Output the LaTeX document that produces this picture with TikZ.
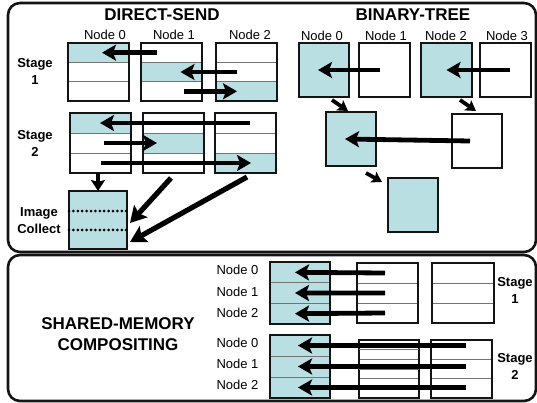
\documentclass[tikz,border=0pt]{standalone}
\usepackage{fontspec}
\setmainfont{Liberation Sans}
\usetikzlibrary{arrows.meta,fit,calc}
\definecolor{cellfill}{RGB}{185,223,227}
\definecolor{inkdark}{RGB}{20,20,20}
\definecolor{rulegray}{RGB}{115,115,115}

% three stacked rows (name-0, name-1, name-2) inside a heavy frame (name)
% #1 name, #2 x, #3 y, #4 width, #5 height, #6-#8 row fills
\newcommand\tribox[8]{%
  \node[cell, fill=#6, minimum width=#4pt, minimum height=#5pt/3, anchor=north west] (#1-0) at (#2,#3) {};
  \node[cell, fill=#7, minimum width=#4pt, minimum height=#5pt/3, anchor=north west] (#1-1) at (#1-0.south west) {};
  \node[cell, fill=#8, minimum width=#4pt, minimum height=#5pt/3, anchor=north west] (#1-2) at (#1-1.south west) {};
  \node[frame, fit=(#1-0)(#1-2)] (#1) {};
}

\begin{document}
\begin{tikzpicture}[x=1pt,y=-1pt,
  panel/.style={draw=inkdark, line width=2.6pt, rounded corners=12pt, inner sep=0, outer sep=0, anchor=north west},
  cell/.style={draw=rulegray, line width=0.9pt, inner sep=0, outer sep=0},
  frame/.style={draw=inkdark, line width=2pt, inner sep=0, outer sep=0},
  solo/.style={frame, anchor=north west},
  hdr/.style={font=\fontsize{17}{21}\selectfont\bfseries, anchor=base, inner sep=0},
  lbl/.style={font=\fontsize{13}{15}\selectfont, anchor=base, inner sep=0},
  stg/.style={font=\fontsize{13}{17}\selectfont\bfseries, align=center, inner sep=0},
  bigarrow/.style={draw=black, line width=4.8pt, -{Stealth[length=14pt,width=16pt,inset=3pt]}},
  tiltarrow/.style={draw=black, line width=5.2pt, -{Stealth[length=16pt,width=18pt,inset=3pt]}},
  droparrow/.style={draw=black, line width=4.2pt, -{Stealth[length=11pt,width=14pt,inset=2pt]}},
  hoparrow/.style={draw=black, line width=3.8pt, -{Stealth[length=10pt,width=12pt,inset=2pt]}},
  dotrule/.style={draw=black, line width=3pt, line cap=round, dash pattern=on 0pt off 4.4pt}
]
\useasboundingbox (0,0) rectangle (537,403);

% ---------- panels ----------
\node[panel, minimum width=528pt, minimum height=249pt] (toppanel) at (8,3) {};
\node[panel, minimum width=528pt, minimum height=146pt] (botpanel) at (8,255) {};

% ---------- direct-send ----------
\node[hdr] (dshead) at (162,21) {DIRECT-SEND};
\node[lbl] (dsn0) at (105,40) {Node 0};
\node[lbl] (dsn1) at (174,40) {Node 1};
\node[lbl] (dsn2) at (250,40) {Node 2};
\node[stg] (dsst1) at (35,71.4) {Stage\\1};
\node[stg] (dsst2) at (35,143.8) {Stage\\2};
\node[stg] (dsimg) at (39,220.9) {Image\\Collect};

\tribox{ds1a}{67.5}{43}{61}{58}{cellfill}{white}{white}
\tribox{ds1b}{140.5}{43}{61}{58}{white}{cellfill}{white}
\tribox{ds1c}{216}{43}{61}{58}{white}{white}{cellfill}

\tribox{ds2a}{70}{113}{61}{60}{cellfill}{white}{white}
\tribox{ds2b}{143}{113}{61}{60}{white}{cellfill}{white}
\tribox{ds2c}{215}{113}{61}{60}{white}{white}{cellfill}

\node[solo, fill=cellfill, minimum width=58pt, minimum height=58pt] (ic) at (69,191) {};
\draw[dotrule] ($(ic.north west)!0.345!(ic.south west)$) -- ($(ic.north east)!0.345!(ic.south east)$);
\draw[dotrule] ($(ic.north west)!0.672!(ic.south west)$) -- ($(ic.north east)!0.672!(ic.south east)$);

% stage 1 exchanges
\draw[bigarrow] ([xshift=16.5pt]ds1b-0.west) -- ([xshift=34.5pt]ds1a-0.west);
\draw[bigarrow] ([xshift=21pt]ds1c-1.west) -- ([xshift=40pt]ds1b-1.west);
\draw[bigarrow] ([xshift=43pt]ds1b-2.west) -- ([xshift=21pt]ds1c-2.west);
% stage 2 exchanges
\draw[bigarrow] ([xshift=35pt]ds2c-0.west) -- ([xshift=30pt]ds2a-0.west);
\draw[bigarrow] ([xshift=34pt]ds2a-1.west) -- ([xshift=14pt]ds2b-1.west);
\draw[bigarrow] ([xshift=31pt]ds2a-2.west) -- ([xshift=36pt]ds2c-2.west);
% gather to the collecting image
\draw[droparrow] (ic.north |- ds2a.south) -- (ic.north);
\draw[tiltarrow] ([shift={(-2.5pt,-5pt)}]ds2b.south) -- ([shift={(3pt,-3pt)}]ic.east);
\draw[tiltarrow] ([shift={(1.5pt,-4pt)}]ds2c.south) -- ([shift={(3pt,7pt)}]ic.south east);

% ---------- binary-tree ----------
\node[hdr] (bthead) at (413,21) {BINARY-TREE};
\node[lbl] (btn0) at (322,40.5) {Node 0};
\node[lbl] (btn1) at (386,40.5) {Node 1};
\node[lbl] (btn2) at (446,40.5) {Node 2};
\node[lbl] (btn3) at (507,40.5) {Node 3};

\node[solo, fill=cellfill, minimum width=50pt, minimum height=54pt] (bt0) at (299,43) {};
\node[solo, fill=white,    minimum width=51pt, minimum height=54pt] (bt1) at (359,43) {};
\node[solo, fill=cellfill, minimum width=51pt, minimum height=54pt] (bt2) at (421,43) {};
\node[solo, fill=white,    minimum width=51pt, minimum height=54pt] (bt3) at (480,43) {};
\node[solo, fill=cellfill, minimum width=50pt, minimum height=54pt] (bt4) at (326,112) {};
\node[solo, fill=white,    minimum width=50pt, minimum height=54pt] (bt5) at (452,114) {};
\node[solo, fill=cellfill, minimum width=50pt, minimum height=54pt] (bt6) at (388,178) {};

\draw[bigarrow] ([xshift=-4.5pt]bt1.center) -- ([xshift=-6pt]bt0.center);
\draw[bigarrow] ([xshift=4.5pt]bt3.center) -- (bt2.center);
\draw[bigarrow] ([xshift=18pt]bt5.west) -- ([xshift=19pt]bt4.west);
\draw[hoparrow] ([shift={(8pt,-3pt)}]bt0.south) -- ([shift={(-3pt,1pt)}]bt4.north);
\draw[hoparrow] ([shift={(13.5pt,-3pt)}]bt2.south) -- ([shift={(-1pt,3pt)}]bt5.north);
\draw[hoparrow] ([shift={(15pt,-7pt)}]bt4.south) -- ([shift={(-6pt,-4pt)}]bt6.north west);

% ---------- shared-memory compositing ----------
\node[stg, font=\fontsize{17}{21}\selectfont\bfseries] (smhead) at (118,334.4) {SHARED-MEMORY\\COMPOSITING};
\node[lbl] (sm1n0) at (237.5,274.3) {Node 0};
\node[lbl] (sm1n1) at (237.5,296) {Node 1};
\node[lbl] (sm1n2) at (237.5,317.7) {Node 2};
\node[lbl] (sm2n0) at (237.5,347.7) {Node 0};
\node[lbl] (sm2n1) at (237.5,368.3) {Node 1};
\node[lbl] (sm2n2) at (237.5,389.3) {Node 2};
\node[stg] (smst1) at (515,290.9) {Stage\\1};
\node[stg] (smst2) at (515,366.9) {Stage\\2};

\tribox{sm1a}{270}{262}{60}{62}{cellfill}{cellfill}{cellfill}
\tribox{sm1b}{357}{263}{61}{60}{white}{white}{white}
\tribox{sm1c}{432}{263}{62}{60}{white}{white}{white}
\tribox{sm2a}{270}{335}{60}{63}{cellfill}{cellfill}{cellfill}
\tribox{sm2b}{359}{340}{60}{58}{white}{white}{white}
\tribox{sm2c}{431}{340}{61}{58}{white}{white}{white}
\foreach \k in {0,1,2}
  \draw[cell] (sm2b-\k.west) -- (sm2b-\k.east);

\foreach \k in {0,1,2}
  \draw[bigarrow] ([xshift=28pt]sm1b-\k.west) -- ([xshift=25pt]sm1a-\k.west);
\coordinate (smtail) at ([xshift=35pt]sm2c.west);
\foreach \k in {0,1,2}
  \draw[bigarrow] (smtail |- sm2a-\k.west) -- ([xshift=28pt]sm2a-\k.west);

\end{tikzpicture}
\end{document}
